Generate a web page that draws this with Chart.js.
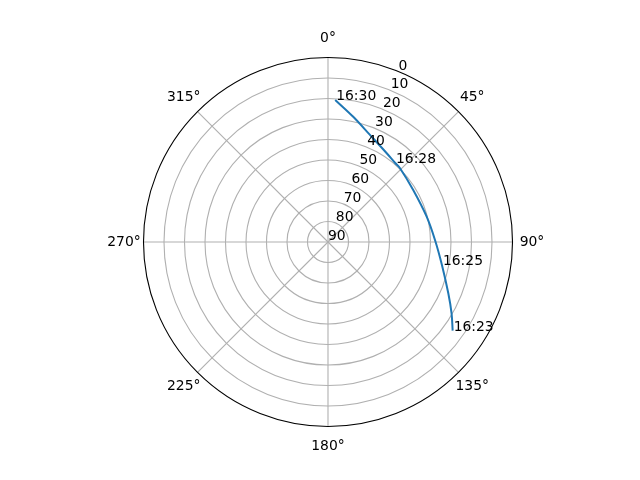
<!DOCTYPE html>
<html>
<head>
<meta charset="utf-8">
<script src="https://cdn.jsdelivr.net/npm/chart.js@4/dist/chart.umd.min.js"></script>
<style>
html,body{margin:0;padding:0;background:#fff;}
#wrap{width:640px;height:480px;}
</style>
</head>
<body>
<div id="wrap"><canvas id="c" width="640" height="480"></canvas></div>
<script>
// Pass data: azimuth (deg, clockwise from North) and elevation (deg), in time order
const azimuth   = [125.4, 120.0, 113.1, 101.4, 88.9, 75.6, 58.6, 44.3, 40.2, 33.5, 21.4, 11.4, 2.9];
const elevation = [15.4, 20.4, 26.2, 33.3, 37.8, 40.3, 41.3, 39.7, 39.4, 38.1, 33.9, 27.7, 20.6];
const timeLabels = ['16:23', '', '', '16:25', '', '', '', '', '16:28', '', '', '', '16:30'];
// Grid / tick labels
const radialTicks = [0, 10, 20, 30, 40, 50, 60, 70, 80, 90];            // r = 90 - elevation
const radialTickLabels = ['90', '80', '70', '60', '50', '40', '30', '20', '10', '0'];
const angleTicks = [0, 45, 90, 135, 180, 225, 270, 315];
const angleTickLabels = ['0°', '45°', '90°', '135°', '180°', '225°', '270°', '315°'];
const rMax = 90;

const FONT = '13.9px "DejaVu Sans", sans-serif';
const toRad = d => d * Math.PI / 180;
const points = azimuth.map((a, i) => {
  const r = rMax - elevation[i];
  return { x: r * Math.sin(toRad(a)), y: r * Math.cos(toRad(a)) };
});

const polarGrid = {
  id: 'polarGrid',
  beforeDatasetsDraw(chart) {
    const ctx = chart.ctx, xs = chart.scales.x, ys = chart.scales.y;
    const cx = xs.getPixelForValue(0), cy = ys.getPixelForValue(0);
    const pr = v => xs.getPixelForValue(v) - cx;
    ctx.save();
    ctx.strokeStyle = '#b0b0b0';
    ctx.lineWidth = 1.1;
    radialTicks.forEach(t => {
      if (t <= 0 || t >= rMax) return;
      ctx.beginPath(); ctx.arc(cx, cy, pr(t), 0, Math.PI * 2); ctx.stroke();
    });
    angleTicks.forEach(a => {
      ctx.beginPath();
      ctx.moveTo(cx, cy);
      ctx.lineTo(cx + pr(rMax) * Math.sin(toRad(a)), cy - pr(rMax) * Math.cos(toRad(a)));
      ctx.stroke();
    });
    ctx.restore();
  },
  afterDatasetsDraw(chart) {
    const ctx = chart.ctx, xs = chart.scales.x, ys = chart.scales.y;
    const cx = xs.getPixelForValue(0), cy = ys.getPixelForValue(0);
    const pr = v => xs.getPixelForValue(v) - cx;
    ctx.save();
    // outer spine
    ctx.strokeStyle = '#000'; ctx.lineWidth = 1.1;
    ctx.beginPath(); ctx.arc(cx, cy, pr(rMax), 0, Math.PI * 2); ctx.stroke();
    ctx.fillStyle = '#000'; ctx.font = FONT;
    // angle labels
    ctx.textAlign = 'center'; ctx.textBaseline = 'middle';
    angleTicks.forEach((a, i) => {
      const R = pr(rMax) + 19.5;
      ctx.fillText(angleTickLabels[i], cx + R * Math.sin(toRad(a)), cy - R * Math.cos(toRad(a)));
    });
    // radial labels at 22.5°
    ctx.textAlign = 'left'; ctx.textBaseline = 'alphabetic';
    radialTicks.forEach((t, i) => {
      const R = pr(t);
      ctx.fillText(radialTickLabels[i], cx + R * Math.sin(toRad(22.5)), cy - R * Math.cos(toRad(22.5)) - 2);
    });
    // time labels
    const meta = chart.getDatasetMeta(0);
    timeLabels.forEach((lab, i) => {
      if (!lab) return;
      const el = meta.data[i];
      ctx.fillText(lab, el.x + 1, el.y);
    });
    ctx.restore();
  }
};

new Chart(document.getElementById('c'), {
  type: 'scatter',
  data: {
    datasets: [{
      data: points,
      showLine: true,
      borderColor: '#1f77b4',
      backgroundColor: '#1f77b4',
      borderWidth: 2,
      pointRadius: 0,
      tension: 0.35
    }]
  },
  options: {
    responsive: false,
    animation: false,
    layout: { padding: { left: 143.5, right: 127.5, top: 57.5, bottom: 53.5 } },
    plugins: { legend: { display: false }, tooltip: { enabled: false } },
    scales: {
      x: { type: 'linear', min: -rMax, max: rMax, display: false },
      y: { type: 'linear', min: -rMax, max: rMax, display: false }
    }
  },
  plugins: [polarGrid]
});
</script>
</body>
</html>
